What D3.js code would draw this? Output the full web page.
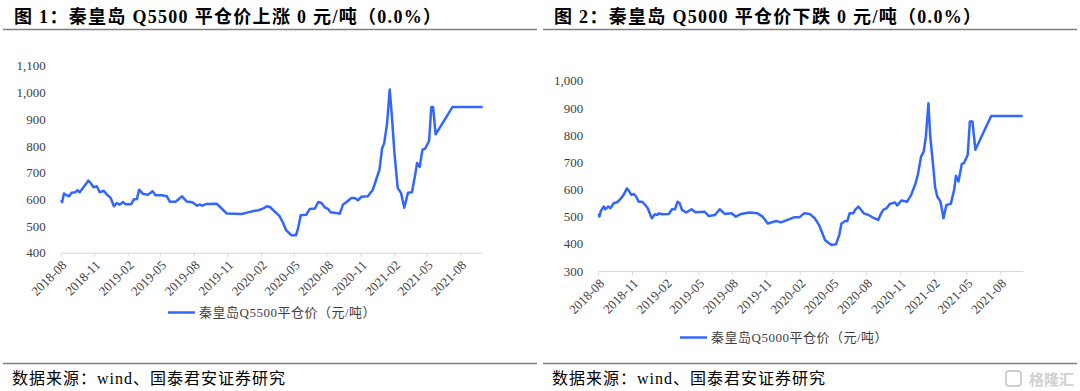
<!DOCTYPE html>
<html>
<head>
<meta charset="utf-8">
<script src="https://cdn.jsdelivr.net/npm/d3@7"></script>
<style>
  body { margin: 0; background: #fff; }
  svg { display: block; }
  .title { font-family: "Liberation Serif", "Noto Sans CJK SC", serif; font-weight: bold; font-size: 18px; fill: #000; letter-spacing: 1.3px; }
  .source { font-family: "Liberation Serif", "Noto Sans CJK SC", serif; font-size: 16px; fill: #000; letter-spacing: 1px; }
  .axis text { font-family: "Liberation Serif", serif; fill: #404040; }
  .legend { font-family: "Liberation Serif", "Noto Sans CJK SC", serif; font-size: 13px; fill: #404040; letter-spacing: 0.5px; }
</style>
</head>
<body>
<svg id="chart"></svg>
<script>
const w = 1080, h = 391;

// weekly-ish readings of the two price series (元/吨)
const q5500Series = [
  ["2018-08-02",597],["2018-08-05",589],["2018-08-10",622],["2018-08-17",615],["2018-08-24",611],
  ["2018-08-31",624],["2018-09-10",626],["2018-09-16",634],["2018-09-22",626],["2018-10-01",642],
  ["2018-10-08",655],["2018-10-16",670],["2018-10-22",661],["2018-10-30",645],["2018-11-08",649],
  ["2018-11-16",626],["2018-11-27",632],["2018-12-06",617],["2018-12-16",605],["2018-12-25",574],
  ["2019-01-02",586],["2019-01-10",580],["2019-01-19",590],["2019-01-26",581],["2019-02-10",581],
  ["2019-02-17",599],["2019-02-26",601],["2019-03-04",636],["2019-03-14",621],["2019-03-28",617],
  ["2019-04-10",630],["2019-04-18",615],["2019-05-06",615],["2019-05-19",611],["2019-05-27",591],
  ["2019-06-12",591],["2019-06-30",611],["2019-07-12",592],["2019-07-28",589],["2019-08-10",576],
  ["2019-08-17",580],["2019-08-24",576],["2019-09-03",582],["2019-10-03",583],["2019-10-12",571],
  ["2019-10-30",547],["2019-12-10",545],["2019-12-28",551],["2020-01-12",556],["2020-01-25",559],
  ["2020-02-08",566],["2020-02-17",574],["2020-02-26",571],["2020-03-09",555],["2020-03-22",539],
  ["2020-04-01",514],["2020-04-10",484],["2020-04-25",465],["2020-05-07",465],["2020-05-13",492],
  ["2020-05-20",540],["2020-06-04",542],["2020-06-14",564],["2020-06-28",565],["2020-07-07",590],
  ["2020-07-16",586],["2020-07-25",570],["2020-08-03",564],["2020-08-10",551],["2020-08-24",549],
  ["2020-09-04",546],["2020-09-13",580],["2020-09-22",589],["2020-10-06",605],["2020-10-15",605],
  ["2020-10-24",596],["2020-11-02",609],["2020-11-20",611],["2020-12-04",636],["2020-12-13",674],
  ["2020-12-22",711],["2020-12-29",789],["2021-01-04",811],["2021-01-12",886],["2021-01-19",1011],
  ["2021-01-25",911],["2021-02-01",774],["2021-02-10",642],["2021-02-19",624],["2021-02-28",568],
  ["2021-03-10",624],["2021-03-21",626],["2021-03-30",693],["2021-04-04",736],["2021-04-11",721],
  ["2021-04-19",786],["2021-04-26",789],["2021-05-07",818],["2021-05-13",945],["2021-05-18",945],
  ["2021-05-25",843],["2021-07-10",945],["2021-10-01",945]
];

const q5000Series = [
  ["2018-08-02",512],["2018-08-04",500],["2018-08-08",521],["2018-08-16",537],["2018-08-20",527],
  ["2018-08-28",537],["2018-09-03",531],["2018-09-12",549],["2018-09-21",553],["2018-09-30",564],
  ["2018-10-09",580],["2018-10-18",604],["2018-10-23",596],["2018-10-30",580],["2018-11-06",583],
  ["2018-11-12",574],["2018-11-19",555],["2018-11-28",555],["2018-12-07",543],["2018-12-14",531],
  ["2018-12-21",506],["2018-12-25",494],["2019-01-02",509],["2019-01-09",506],["2019-01-13",512],
  ["2019-01-22",509],["2019-02-09",510],["2019-02-18",527],["2019-02-26",527],["2019-03-05",555],
  ["2019-03-11",549],["2019-03-17",525],["2019-03-29",515],["2019-04-12",527],["2019-04-23",516],
  ["2019-05-18",518],["2019-05-29",502],["2019-06-15",506],["2019-06-28",527],["2019-07-12",510],
  ["2019-07-30",512],["2019-08-11",500],["2019-08-25",510],["2019-09-17",515],["2019-10-09",512],
  ["2019-10-23",500],["2019-11-06",475],["2019-11-29",484],["2019-12-12",479],["2019-12-30",488],
  ["2020-01-18",498],["2020-02-01",498],["2020-02-13",512],["2020-02-28",510],["2020-03-13",494],
  ["2020-03-25",469],["2020-04-10",414],["2020-04-19",404],["2020-04-28",396],["2020-05-10",398],
  ["2020-05-19",433],["2020-05-25",475],["2020-06-04",484],["2020-06-10",484],["2020-06-16",512],
  ["2020-06-26",512],["2020-07-01",525],["2020-07-10",537],["2020-07-16",527],["2020-07-25",512],
  ["2020-08-07",506],["2020-08-19",496],["2020-09-02",488],["2020-09-10",512],["2020-09-16",525],
  ["2020-09-25",531],["2020-10-04",547],["2020-10-18",552],["2020-10-24",541],["2020-11-04",559],
  ["2020-11-20",555],["2020-12-01",580],["2020-12-13",623],["2020-12-19",653],["2020-12-28",721],
  ["2021-01-04",739],["2021-01-10",794],["2021-01-17",917],["2021-01-22",794],["2021-01-31",672],
  ["2021-02-04",610],["2021-02-10",574],["2021-02-19",555],["2021-02-27",494],["2021-03-07",543],
  ["2021-03-19",547],["2021-03-28",598],["2021-04-02",650],["2021-04-09",629],["2021-04-18",694],
  ["2021-04-24",697],["2021-05-04",727],["2021-05-10",850],["2021-05-17",850],["2021-05-25",746],
  ["2021-07-07",870],["2021-10-01",870]
];

const xTickLabels = ["2018-08","2018-11","2019-02","2019-05","2019-08","2019-11",
  "2020-02","2020-05","2020-08","2020-11","2021-02","2021-05","2021-08"];
const xDomain = ["2018-08-01","2021-10-01"];
const yTicks5500 = [400,500,600,700,800,900,1000,1100];
const yTicks5000 = [300,400,500,600,700,800,900,1000];

const titles = ["图  1：秦皇岛 Q5500 平仓价上涨 0 元/吨（0.0%）", "图  2：秦皇岛 Q5000 平仓价下跌 0 元/吨（0.0%）"];
const legendNames = ["秦皇岛Q5500平仓价（元/吨）", "秦皇岛Q5000平仓价（元/吨）"];
const sourceText = "数据来源：wind、国泰君安证券研究";

const parseDay = d3.timeParse("%Y-%m-%d");
const parseMonth = d3.timeParse("%Y-%m");

const svg = d3.select("#chart").attr("width", w).attr("height", h);

function drawPanel(cfg) {
  const g = svg.append("g");

  // title + rule
  g.append("text").attr("class", "title")
    .attr("x", cfg.left + 14).attr("y", 23)
    .text(cfg.title);
  g.append("line")
    .attr("x1", cfg.left + 3).attr("x2", cfg.left + 537)
    .attr("y1", 29.5).attr("y2", 29.5)
    .style("stroke", "#7f7f7f").style("stroke-width", 1.5);

  // bottom rule + source
  g.append("line")
    .attr("x1", cfg.left + 3).attr("x2", cfg.left + 537)
    .attr("y1", 363.5).attr("y2", 363.5)
    .style("stroke", "#7f7f7f").style("stroke-width", 1.5);
  g.append("text").attr("class", "source")
    .attr("x", cfg.left + 12).attr("y", 384)
    .text(sourceText);

  const xScale = d3.scaleTime()
    .domain(xDomain.map(parseDay))
    .range([cfg.x0, cfg.x1]);
  const yScale = d3.scaleLinear()
    .domain(cfg.yDomain)
    .range([cfg.y0, cfg.y1]);

  // x axis
  const xAxisGroup = g.append("g")
    .attr("class", "axis")
    .attr("transform", `translate(0, ${cfg.y0})`)
    .call(d3.axisBottom(xScale)
      .tickValues(xTickLabels.map(parseMonth))
      .tickFormat(d3.timeFormat("%Y-%m"))
      .tickSize(4)
      .tickSizeOuter(0));
  xAxisGroup.select(".domain").style("stroke", "#d9d9d9");
  xAxisGroup.selectAll(".tick line").style("stroke", "#d9d9d9");
  xAxisGroup.selectAll("text")
    .style("font-size", "13px")
    .style("text-anchor", "end")
    .attr("x", 0).attr("y", 0).attr("dy", "0.35em")
    .attr("transform", "translate(3, 10) rotate(-45)");

  // y axis (labels only)
  const yAxisGroup = g.append("g")
    .attr("class", "axis")
    .attr("transform", `translate(${cfg.x0 - 15}, 0)`)
    .call(d3.axisLeft(yScale)
      .tickValues(cfg.yTicks)
      .tickFormat(d3.format(","))
      .tickSize(0)
      .tickPadding(0));
  yAxisGroup.select(".domain").remove();
  yAxisGroup.selectAll("text").style("font-size", "13px");

  // line
  const line = d3.line()
    .x(d => xScale(parseDay(d[0])))
    .y(d => yScale(d[1]));
  g.append("path")
    .datum(cfg.series)
    .attr("d", line)
    .style("fill", "none")
    .style("stroke", "#3366ff")
    .style("stroke-width", 2.5)
    .style("stroke-linejoin", "round");

  // legend
  g.append("line")
    .attr("x1", cfg.legendX).attr("x2", cfg.legendX + 27)
    .attr("y1", cfg.legendY).attr("y2", cfg.legendY)
    .style("stroke", "#3366ff").style("stroke-width", 2.5);
  g.append("text").attr("class", "legend")
    .attr("x", cfg.legendX + 31).attr("y", cfg.legendY + 4.5)
    .text(cfg.legend);
}

drawPanel({
  left: 0, title: titles[0], legend: legendNames[0], series: q5500Series,
  yDomain: [400, 1100], yTicks: yTicks5500,
  x0: 60.7, x1: 482.7, y0: 252.7, y1: 65.7,
  legendX: 168, legendY: 312.5
});

drawPanel({
  left: 540, title: titles[1], legend: legendNames[1], series: q5000Series,
  yDomain: [300, 1000], yTicks: yTicks5000,
  x0: 598.3, x1: 1022.7, y0: 271, y1: 80.7,
  legendX: 680, legendY: 337.5
});

// watermark
svg.append("text")
  .attr("x", 1074).attr("y", 385)
  .attr("text-anchor", "end")
  .style("font-family", "Noto Sans CJK SC")
  .style("font-weight", "bold")
  .style("font-size", "15px")
  .style("fill", "#d0d0d0")
  .text("格隆汇");
svg.append("rect")
  .attr("x", 1006).attr("y", 371).attr("width", 15).attr("height", 15).attr("rx", 3)
  .style("fill", "none").style("stroke", "#d0d0d0").style("stroke-width", 2);
</script>
</body>
</html>
